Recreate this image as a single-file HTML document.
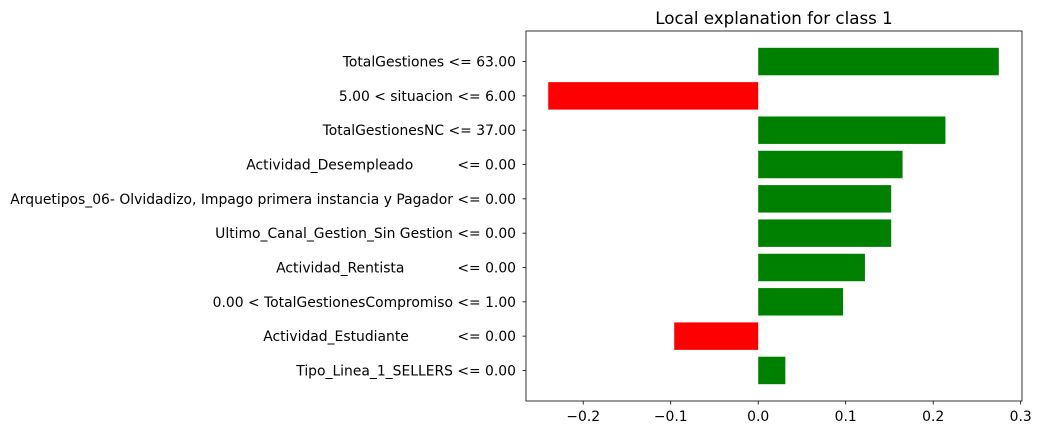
<!DOCTYPE html>
<html><head><meta charset="utf-8"><style>
body{margin:0;background:#fff;}
text{font-family:"DejaVu Sans","Liberation Sans",sans-serif;font-size:13.9px;fill:#000;}
</style></head><body>
<svg id="chart" width="1040" height="435" xmlns="http://www.w3.org/2000/svg"></svg>
<script>
const labels=["TotalGestiones <= 63.00","5.00 < situacion <= 6.00","TotalGestionesNC <= 37.00","Actividad_Desempleado          <= 0.00","Arquetipos_06- Olvidadizo, Impago primera instancia y Pagador <= 0.00","Ultimo_Canal_Gestion_Sin Gestion <= 0.00","Actividad_Rentista            <= 0.00","0.00 < TotalGestionesCompromiso <= 1.00","Actividad_Estudiante           <= 0.00","Tipo_Linea_1_SELLERS <= 0.00"];
const values=[0.275,-0.240,0.214,0.165,0.152,0.152,0.122,0.097,-0.096,0.031];
const ticks=[-0.2,-0.1,0.0,0.1,0.2,0.3];
const tickLabels=["\u22120.2","\u22120.1","0.0","0.1","0.2","0.3"];
const svg=document.getElementById('chart');
const NS="http://www.w3.org/2000/svg";
const L=526,R=1022,T=31,B=401,xmin=-0.2654,xmax=0.3015;
const x=v=>L+(v-xmin)/(xmax-xmin)*(R-L);
const n=labels.length,step=(B-T)/(n+0.78);
const y=i=>T+step*(0.89+i);
function mk(tag,attrs){const e=document.createElementNS(NS,tag);for(const k in attrs)e.setAttribute(k,attrs[k]);svg.appendChild(e);return e;}
values.forEach((v,i)=>{
 const r=mk('rect',{x:Math.min(x(0),x(v)),y:y(i)-step*0.4,width:Math.abs(x(v)-x(0)),height:step*0.8,fill:v>=0?'#008000':'#ff0000'});
 
 
 mk('line',{x1:L,x2:L-3.5,y1:y(i),y2:y(i),stroke:'#000','stroke-width':0.8});
 const t=mk('text',{x:L-10,y:y(i)+5,'text-anchor':'end'});t.textContent=labels[i].replace(/ /g,'\u00a0');
 
 
});
ticks.forEach((v,i)=>{
 mk('line',{x1:x(v),x2:x(v),y1:B,y2:B+3.5,stroke:'#000','stroke-width':0.8});
 const t=mk('text',{x:x(v),y:B+20,'text-anchor':'middle'});t.textContent=tickLabels[i];
 
 
});
const fr=mk('rect',{x:L,y:T,width:R-L,height:B-T,fill:'none',stroke:'#000','stroke-width':0.8});


const ti=mk('text',{x:(L+R)/2,y:T-7,'text-anchor':'middle',style:'font-size:16.7px'});ti.textContent="Local explanation for class 1";


</script>
</body></html>
